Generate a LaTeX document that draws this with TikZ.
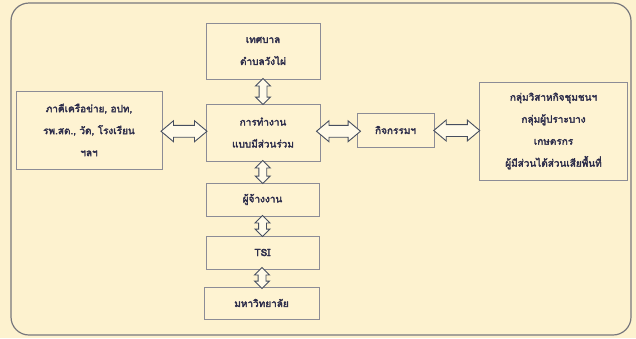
\documentclass[tikz,border=0pt]{standalone}
\usepackage{fontspec}
\newfontfamily\thaifont[Script=Thai,FakeBold=2.8]{Loma}
\usetikzlibrary{shapes.arrows,calc}
\definecolor{bg}{RGB}{253,242,207}
\definecolor{boxfill}{RGB}{254,243,210}
\definecolor{boxline}{RGB}{140,140,150}
\definecolor{framec}{RGB}{120,120,125}
\definecolor{txt}{RGB}{45,45,75}
\definecolor{arrline}{RGB}{70,78,95}
\definecolor{arrfill}{RGB}{255,250,232}
\tikzset{
  stepbox/.style={draw=boxline, fill=boxfill, line width=0.8pt, align=center,
    inner sep=0pt, text=txt},
  harrow/.style={double arrow, draw=arrline, fill=arrfill, line width=0.9pt,
    inner sep=0pt, double arrow head extend=4.5pt, double arrow tip angle=80,
    node contents={\rule{0pt}{11pt}}},
  varrow/.style={double arrow, draw=arrline, fill=arrfill, line width=0.9pt,
    inner sep=0pt, double arrow head extend=3.5pt, double arrow tip angle=90,
    rotate=90, node contents={\rule{0pt}{7pt}}},
}
\begin{document}
\begin{tikzpicture}[x=1pt,y=-1pt,font=\thaifont\fontsize{10}{22}\selectfont]
\fill[bg] (0,0) rectangle (636,338);
\useasboundingbox (0,0) rectangle (636,338);
\draw[framec, line width=1.2pt, rounded corners=18pt] (11,3) rectangle (631,335);

\node[stepbox, minimum width=114pt, minimum height=56pt] (top) at (263,51) {เทศบาล\\ตำบลวังไผ่};
\node[stepbox, minimum width=146pt, minimum height=78pt] (left) at (89,130) {ภาคีเครือข่าย, อปท,\\รพ.สต., วัด, โรงเรียน\\ฯลฯ};
\node[stepbox, minimum width=114pt, minimum height=57pt] (center) at (263,132.5) {การทำงาน\\แบบมีส่วนร่วม};
\node[stepbox, minimum width=77pt, minimum height=34pt] (act) at (395.5,130) {กิจกรรมฯ};
\node[stepbox, minimum width=148pt, minimum height=98pt] (right) at (553.5,131) {กลุ่มวิสาหกิจชุมชนฯ\\กลุ่มผู้ปราะบาง\\เกษตรกร\\ผู้มีส่วนได้ส่วนเสียพื้นที่};
\node[stepbox, minimum width=113pt, minimum height=33pt] (emp) at (262.5,199.5) {ผู้จ้างงาน};
\node[stepbox, minimum width=113pt, minimum height=33pt] (tsi) at (262.5,252.5) {TSI};
\node[stepbox, minimum width=115pt, minimum height=32pt] (uni) at (261.5,303) {มหาวิทยาลัย};

\path (left.east) -- (center.west) node[midway, harrow, minimum height=46pt];
\path (center.east) -- (act.west) node[midway, harrow, minimum height=44pt];
\path (act.east) -- (right.west) node[midway, harrow, minimum height=46pt];
\path (top.south) -- (center.north) node[midway, varrow, minimum height=26pt];
\path (center.south) -- (emp.north) node[midway, varrow, minimum height=23pt];
\path (emp.south) -- (tsi.north) node[midway, varrow, minimum height=21pt];
\path (tsi.south) -- (uni.north) node[midway, varrow, minimum height=21pt];
\end{tikzpicture}
\end{document}
